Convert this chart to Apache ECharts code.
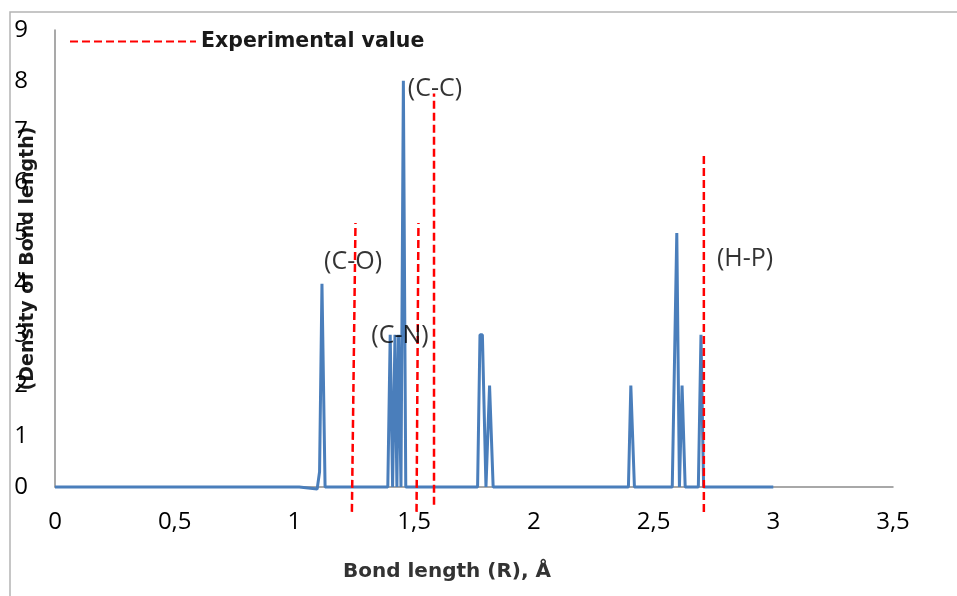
<!DOCTYPE html>
<html>
<head>
<meta charset="utf-8">
<script src="https://cdn.jsdelivr.net/npm/echarts@6/dist/echarts.min.js"></script>
<style>
  html, body {margin: 0; padding: 0; background: #fff;}
  #chart {width: 957px; height: 596px;}
</style>
</head>
<body>
<div id="chart"></div>
<script>
// density of bond length (x in Å, y density)
const densityX = [0, 1.02, 1.095, 1.105, 1.115, 1.128,
  1.39, 1.40, 1.41, 1.42, 1.428, 1.435, 1.445, 1.455, 1.465,
  1.765, 1.775, 1.785, 1.80, 1.815, 1.83,
  2.395, 2.405, 2.42,
  2.578, 2.597, 2.608, 2.619, 2.632,
  2.687, 2.698, 2.709, 3.0];
const densityY = [0, 0, -0.04, 0.3, 4, 0,
  0, 3, 0, 3, 0, 3, 0, 8, 0,
  0, 3, 3, 0, 2, 0,
  0, 2, 0,
  0, 5, 0, 2, 0,
  0, 3, 0, 0];

// experimental reference lines: [x bottom, y bottom, x top, y top]
const experimental = [
  [1.24, -0.49, 1.255, 5.2],
  [1.51, -0.49, 1.518, 5.2],
  [1.583, -0.35, 1.583, 7.75],
  [2.71, -0.49, 2.71, 6.57]
];

const bondLabels = ["(C-O)", "(C-N)", "(C-C)", "(H-P)"];
const bondLabelAt = [[1.245, 4.43], [1.441, 2.97], [1.587, 7.85], [2.882, 4.49]];

const xTicks = [0, 0.5, 1, 1.5, 2, 2.5, 3, 3.5];
const yTicks = [0, 1, 2, 3, 4, 5, 6, 7, 8, 9];

const chart = echarts.init(document.getElementById("chart"));

const redSeries = experimental.map(l => ({
  name: "Experimental value",
  type: "line",
  symbol: "none",
  clip: false,
  silent: true,
  itemStyle: {color: "#ff0000"},
  lineStyle: {color: "#ff0000", width: 2.5, type: [8, 4]},
  data: [[l[0], l[1]], [l[2], l[3]]],
  z: 3
}));

chart.setOption({
  animation: false,
  textStyle: {fontFamily: "Open Sans"},
  grid: {left: 55, right: 64, top: 30, bottom: 109, containLabel: false, outerBoundsMode: "none"},
  legend: {
    data: ["Experimental value"],
    left: 64,
    top: 26,
    itemWidth: 126,
    itemHeight: 20,
    itemGap: 12,
    itemStyle: {opacity: 0},
    textStyle: {fontFamily: "DejaVu Sans", fontWeight: "bold", fontSize: 20.5, color: "#1a1a1a"}
  },
  xAxis: {
    type: "value",
    min: 0,
    max: 3.5,
    interval: 0.5,
    axisLine: {lineStyle: {color: "#8c8c8c", width: 1.5}},
    axisTick: {show: false},
    splitLine: {show: false},
    axisLabel: {
      margin: 23,
      fontSize: 24,
      color: "#000",
      formatter: v => xTicks.includes(v) ? String(v).replace(".", ",") : ""
    }
  },
  yAxis: {
    type: "value",
    min: 0,
    max: 9,
    interval: 1,
    name: "(Density of Bond length)",
    nameLocation: "middle",
    nameRotate: 90,
    nameGap: 17,
    nameMoveOverlap: false,
    nameTextStyle: {fontFamily: "DejaVu Sans", fontWeight: "bold", fontSize: 19, color: "#1a1a1a"},
    axisLine: {show: true, lineStyle: {color: "#8c8c8c", width: 1.5}},
    axisTick: {show: false},
    splitLine: {show: false},
    axisLabel: {
      margin: 27,
      fontSize: 24,
      color: "#000",
      formatter: v => yTicks.includes(v) ? String(v) : ""
    }
  },
  graphic: [
    {
      type: "polyline",
      shape: {points: [[10, 600], [10, 12], [960, 12]]},
      style: {stroke: "#b4b4b4", lineWidth: 1.5, fill: null},
      silent: true
    },
    {
      type: "text",
      left: 343,
      top: 562,
      style: {
        text: "Bond length (R), Å",
        fontFamily: "DejaVu Sans",
        fontWeight: "bold",
        fontSize: 20,
        fill: "#333"
      }
    }
  ],
  series: [
    {
      name: "Density",
      type: "line",
      symbol: "none",
      clip: false,
      lineStyle: {color: "#4a7ebb", width: 3},
      data: densityX.map((x, i) => [x, densityY[i]]),
      z: 2
    },
    ...redSeries,
    {
      name: "labels",
      type: "scatter",
      symbolSize: 1,
      itemStyle: {color: "rgba(0,0,0,0)"},
      silent: true,
      label: {
        show: true,
        position: "inside",
        formatter: "{b}",
        fontFamily: "Open Sans",
        fontSize: 25,
        color: "#000"
      },
      data: bondLabels.map((n, i) => ({name: n, value: bondLabelAt[i]})),
      z: 5
    }
  ]
});
</script>
</body>
</html>
